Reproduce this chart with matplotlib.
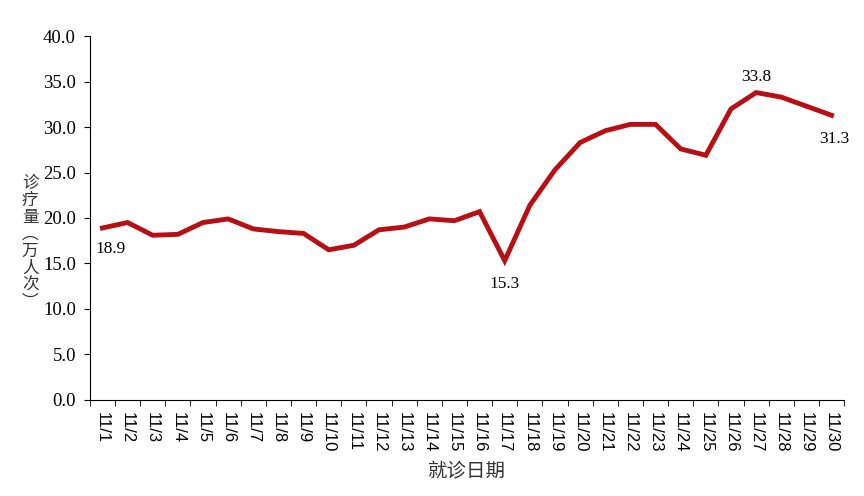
import matplotlib
matplotlib.use("Agg")
from matplotlib import pyplot as plt

# Data
dates = ["11/%d" % d for d in range(1, 31)]
visits = [18.9, 19.5, 18.1, 18.2, 19.5, 19.9, 18.8, 18.5, 18.3, 16.5,
          17.0, 18.7, 19.0, 19.9, 19.7, 20.7, 15.3, 21.4, 25.3, 28.3,
          29.6, 30.3, 30.3, 27.6, 26.9, 32.0, 33.8, 33.3, 32.3, 31.3]
labelled = {0: (6, -15), 16: (0, -17), 26: (0, 11), 29: (2, -17)}

serif = ["Liberation Serif", "DejaVu Serif"]
cjk = ["Noto Sans CJK SC", "DejaVu Sans"]

fig = plt.figure(figsize=(8.64, 4.96), dpi=100)
ax = fig.add_axes([0.104, 0.194, 0.873, 0.733])

x = list(range(len(dates)))
ax.plot(x, visits, color="#B80F14", linewidth=3.5, solid_joinstyle="miter")

for i, (dx, dy) in labelled.items():
    ax.annotate("%.1f" % visits[i], (x[i], visits[i]), xytext=(dx, dy),
                textcoords="offset points", ha="center", va="center",
                fontsize=12.5, family=serif)

# Axes
ax.set_xlim(-0.5, len(dates) - 0.5)
ax.set_ylim(0, 40)
ax.set_yticks(range(0, 41, 5))
ax.set_yticklabels(["%.1f" % v for v in range(0, 41, 5)], family=serif, fontsize=13.5)
ax.set_xticks(x)
ax.set_xticklabels(dates, rotation=-90, fontsize=12, family=["Liberation Sans"])
ax.set_xticks([i - 0.5 for i in range(len(dates) + 1)], minor=True)
ax.tick_params(axis="x", which="major", length=0, pad=9)
ax.tick_params(axis="x", which="minor", length=4, direction="out")
ax.tick_params(axis="y", length=4, direction="out", pad=6)
for s in ["top", "right"]:
    ax.spines[s].set_visible(False)

fig.text(0.035, 0.51, "诊\n疗\n量\n︵\n万\n人\n次\n︶", family=cjk, fontsize=12,
         ha="center", va="center", linespacing=1.0, color="#333333")
fig.text(0.54, 0.05, "就诊日期", family=cjk, fontsize=14, ha="center", va="center",
         color="#333333")

plt.savefig("out.png", dpi=100)
